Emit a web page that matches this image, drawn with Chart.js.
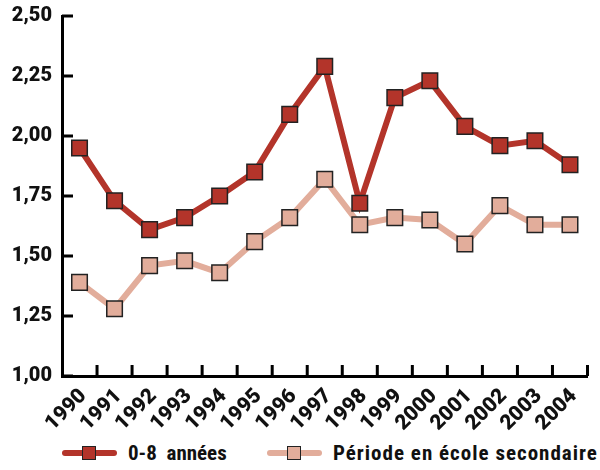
<!DOCTYPE html>
<html>
<head>
<meta charset="utf-8">
<script src="https://cdn.jsdelivr.net/npm/chart.js@4/dist/chart.umd.min.js"></script>
<style>
  body { margin: 0; background: #fff; }
  #wrap { position: relative; width: 600px; height: 470px; }
  #chartBox { position: absolute; left: 0; top: 0; width: 600px; height: 432px; }
  .legend { position: absolute; top: 440px; height: 26px; display: flex; align-items: center;
            font-family: "Roboto Condensed", Roboto, sans-serif;
            font-weight: bold; font-size: 21px; color: #111; }
  .legend span { white-space: pre; }
  .sw { position: relative; width: 55px; height: 26px; margin-right: 11px; }
  .sw .ln { position: absolute; left: 0; right: 0; top: 10px; height: 6px; border-radius: 3px; }
  .sw .mk { position: absolute; left: 20px; top: 6px; width: 12px; height: 12px; border: 1.5px solid #222; }
</style>
</head>
<body>
<div id="wrap">
  <div id="chartBox"><canvas id="myChart"></canvas></div>
  <div class="legend" style="left:62px"><div class="sw"><div class="ln" style="background:#b3342a"></div><div class="mk" style="background:#b3342a"></div></div><span>0-8  années</span></div>
  <div class="legend" style="left:267px"><div class="sw"><div class="ln" style="background:#e2ad9b"></div><div class="mk" style="background:#e2ad9b"></div></div><span style="letter-spacing:1px">Période en école secondaire</span></div>
</div>
<script>
const years = ['1990', '1991', '1992', '1993', '1994', '1995', '1996', '1997',
               '1998', '1999', '2000', '2001', '2002', '2003', '2004'];
const annees08 = [1.95, 1.73, 1.61, 1.66, 1.75, 1.85, 2.09, 2.29, 1.72, 2.16, 2.23, 2.04, 1.96, 1.98, 1.88];
const secondaire = [1.39, 1.28, 1.46, 1.48, 1.43, 1.56, 1.66, 1.82, 1.63, 1.66, 1.65, 1.55, 1.71, 1.63, 1.63];

const fontFamily = 'Roboto, "Roboto Condensed", sans-serif';

// ticks drawn inward, like the original
const innerTicks = {
    id: 'innerTicks',
    afterDraw(chart) {
        const ctx = chart.ctx;
        const x = chart.scales.x, y = chart.scales.y;
        ctx.save();
        ctx.strokeStyle = '#000';
        ctx.lineWidth = 3;
        ctx.beginPath();
        y.ticks.forEach((t, i) => {
            const py = y.getPixelForTick(i);
            ctx.moveTo(y.right, py);
            ctx.lineTo(y.right + 11, py);
        });
        for (let i = 1; i <= years.length; i++) {
            const px = x.getPixelForValue(i - 0.5);
            ctx.moveTo(px, x.top);
            ctx.lineTo(px, x.top - 11);
        }
        ctx.stroke();
        ctx.restore();
    }
};

const ctx = document.getElementById('myChart').getContext('2d');
new Chart(ctx, {
    type: 'line',
    data: {
        labels: years,
        datasets: [{
            label: '0-8  années',
            data: annees08,
            borderColor: '#b3342a',
            backgroundColor: '#b3342a',
            borderWidth: 6,
            pointStyle: 'rect',
            pointRadius: 11,
            pointBorderColor: '#222',
            pointBorderWidth: 1.5,
            tension: 0
        }, {
            label: 'Période en école secondaire',
            data: secondaire,
            borderColor: '#e2ad9b',
            backgroundColor: '#e2ad9b',
            borderWidth: 6,
            pointStyle: 'rect',
            pointRadius: 11,
            pointBorderColor: '#222',
            pointBorderWidth: 1.5,
            tension: 0
        }]
    },
    options: {
        responsive: true,
        maintainAspectRatio: false,
        animation: false,
        layout: { padding: { top: 16, right: 2 } },
        plugins: { legend: { display: false }, tooltip: { enabled: false } },
        scales: {
            x: {
                offset: true,
                grid: { display: false },
                border: { color: '#000', width: 3 },
                ticks: {
                    color: '#111',
                    autoSkip: false,
                    font: { family: fontFamily, size: 21, weight: 900 },
                    maxRotation: 45, minRotation: 45,
                    labelOffset: 4,
                    padding: 0
                },
                afterFit(scale) { scale.height = 56; }
            },
            y: {
                min: 1, max: 2.5,
                grid: { display: false },
                border: { color: '#000', width: 3 },
                ticks: {
                    stepSize: 0.25,
                    color: '#111',
                    font: { family: fontFamily, size: 20, weight: 900 },
                    padding: 2,
                    callback: v => v.toFixed(2).replace('.', ',')
                },
                afterFit(scale) { scale.width = 62; }
            }
        }
    },
    plugins: [innerTicks]
});
</script>
</body>
</html>
